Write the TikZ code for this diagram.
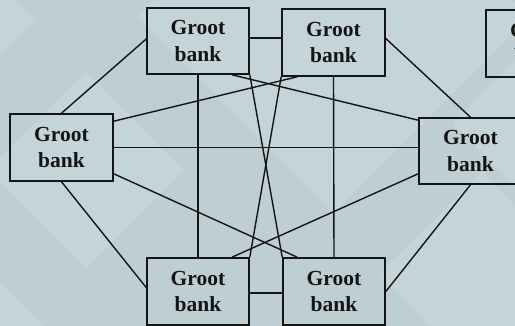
\documentclass[tikz,border=0pt]{standalone}
\usepackage{fontspec}
\setmainfont{Liberation Serif}
\usetikzlibrary{calc}
\definecolor{bgbase}{RGB}{190,206,210}
\definecolor{bglight}{RGB}{196,212,216}
\definecolor{inkc}{RGB}{20,20,20}
\newcommand\tilediamond[3]{\fill[tile] ({#1-#3},#2) -- (#1,{#2-#3}) -- ({#1+#3},#2) -- (#1,{#2+#3}) -- cycle;}
\begin{document}
\begin{tikzpicture}[x=1pt,y=-1pt,
  bank/.style={draw=inkc, line width=1.6pt, rectangle, inner sep=0pt,
    minimum width=102pt, minimum height=66pt, align=center,
    font=\fontsize{21.5}{26.5}\selectfont\bfseries, text=inkc},
  link/.style={draw=inkc, line width=1.4pt},
  tile/.style={fill=bglight, draw=none}]
\useasboundingbox (0,0) rectangle (515,326);
\fill[bgbase] (0,0) rectangle (515,326);
\begin{scope}
\clip (0,0) rectangle (515,326);
% background tiles
\tilediamond{0}{20}{35}
\tilediamond{86}{170}{98}
\tilediamond{333}{17}{196}
\tilediamond{482}{275}{103}
\tilediamond{552}{123}{100}
\tilediamond{0}{328}{45}
% banks
\node[bank] (TL) at (198,41) {Groot\\bank};
\node[bank, minimum width=103pt, minimum height=67pt] (TR) at (333.5,42.5) {Groot\\bank};
\node[bank, minimum width=103pt, minimum height=67pt] (L) at (61.5,147.5) {Groot\\bank};
\node[bank, minimum width=103pt] (R) at (470.5,151) {Groot\\bank};
\node[bank, minimum height=67pt] (BL) at (198,291.5) {Groot\\bank};
\node[bank, minimum height=67pt] (BR) at (334,291.5) {Groot\\bank};
\node[bank, minimum width=103pt, minimum height=67pt] (FR) at (537.5,43.5) {Groot\\bank};
% helper points
\coordinate (a1) at ($(TL.east)+(0,-3)$);
\coordinate (a2) at ($(BL.east)+(0,1.5)$);
% links
\draw[link] (a1) -- (a1 -| TR.west);
\draw[link] (a2) -- (a2 -| BR.west);
\draw[link] ($(TL.west)+(0,-2)$) -- (L.north);
\draw[link] ($(TR.east)+(0,-4)$) -- (R.north);
\draw[link] (L.south) -- ($(BL.west)+(0,-4)$);
\draw[link] (R.south) -- (BR.east);
\draw[link] (TL.south) -- (BL.north);
\draw[link] (TR.south) -- (BR.north);
\draw[link] (L.east) -- (L.east -| R.west);
\draw[link] ($(L.north east)+(0,8)$) -- ($(TR.south west)+(16,0)$);
\draw[link] ($(TL.south)+(34,0)$) -- ($(R.north west)+(0,3)$);
\draw[link] ($(L.south east)+(0,-8)$) -- ($(BR.north west)+(15,0)$);
\draw[link] ($(BL.north)+(34,0)$) -- ($(R.south west)+(0,-11)$);
\draw[link] (TL.south east) -- (BR.north west);
\draw[link] (TR.south west) -- (BL.north east);
\end{scope}
\end{tikzpicture}
\end{document}
